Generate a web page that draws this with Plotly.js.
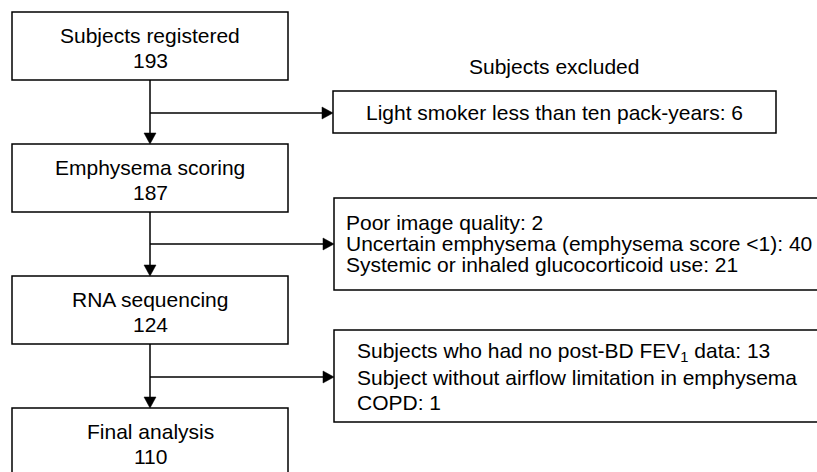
<!DOCTYPE html>
<html>
<head>
<meta charset="utf-8">
<script src="https://cdn.plot.ly/plotly-3.0.1.min.js"></script>
<style>html,body{margin:0;padding:0;background:#fff;}#chart{width:817px;height:472px;}</style>
</head>
<body>
<div id="chart"></div>
<script>
// ---- chart content ----
const stageLabels = ['Subjects registered', 'Emphysema scoring', 'RNA sequencing', 'Final analysis'];
const stageCounts = [193, 187, 124, 110];
const exclusionHeader = 'Subjects excluded';
const exclusionReasons = [
  ['Light smoker less than ten pack-years: 6'],
  ['Poor image quality: 2', 'Uncertain emphysema (emphysema score <1): 40', 'Systemic or inhaled glucocorticoid use: 21'],
  ['Subjects who had no post-BD FEV<sub>1</sub> data: 13', 'Subject without airflow limitation in emphysema', 'COPD: 1']
];

// ---- layout geometry (pixels) ----
const FONT = {family: 'Liberation Sans, Arial, sans-serif', size: 21, color: '#000'};
const LW = 1.5;
const boxX0 = 12, boxX1 = 288, boxH = 68, boxStep = 132, boxTop0 = 12, spineX = 150;
const HEAD_L = 11, HEAD_W = 6; // arrowhead length and half-width
const exBoxes = [
  {x0: 333, x1: 776, y0: 91, y1: 133, branchY: 113, align: 'center', textX: 554.5, lineY: [112]},
  {x0: 334, x1: 830, y0: 198, y1: 290, branchY: 244, align: 'left', textX: 344, lineY: [222, 243, 264]},
  {x0: 334, x1: 830, y0: 330, y1: 422, branchY: 377, align: 'left', textX: 355, lineY: [352, 377, 402]}
];

const shapes = [];
const annotations = [];
const line = (x0, y0, x1, y1) => shapes.push({type: 'line', xref: 'x', yref: 'y', x0, y0, x1, y1,
  line: {color: '#000', width: LW}});
const headDown = (x, y) => shapes.push({type: 'path', xref: 'x', yref: 'y',
  path: `M${x - HEAD_W},${y - HEAD_L} L${x + HEAD_W},${y - HEAD_L} L${x},${y} Z`,
  fillcolor: '#000', line: {color: '#000', width: 0.5}});
const headRight = (x, y) => shapes.push({type: 'path', xref: 'x', yref: 'y',
  path: `M${x - HEAD_L},${y - HEAD_W} L${x - HEAD_L},${y + HEAD_W} L${x},${y} Z`,
  fillcolor: '#000', line: {color: '#000', width: 0.5}});

stageLabels.forEach((lab, i) => {
  const top = boxTop0 + i * boxStep;
  shapes.push({type: 'rect', xref: 'x', yref: 'y', x0: boxX0, x1: boxX1, y0: top, y1: top + boxH,
    line: {color: '#000', width: LW}, fillcolor: 'rgba(0,0,0,0)'});
  annotations.push({x: (boxX0 + boxX1) / 2, y: top + 23, text: lab, showarrow: false,
    xanchor: 'center', yanchor: 'middle', font: FONT});
  annotations.push({x: (boxX0 + boxX1) / 2, y: top + 48, text: String(stageCounts[i]), showarrow: false,
    xanchor: 'center', yanchor: 'middle', font: FONT});
  if (i < stageLabels.length - 1) {
    line(spineX, top + boxH, spineX, top + boxStep - HEAD_L + 1);
    headDown(spineX, top + boxStep);
  }
});

exBoxes.forEach((b, i) => {
  shapes.push({type: 'rect', xref: 'x', yref: 'y', x0: b.x0, x1: b.x1, y0: b.y0, y1: b.y1,
    line: {color: '#000', width: LW}, fillcolor: 'rgba(0,0,0,0)'});
  line(spineX, b.branchY, b.x0 - HEAD_L + 1, b.branchY);
  headRight(b.x0, b.branchY);
  exclusionReasons[i].forEach((txt, j) => {
    annotations.push({x: b.textX, y: b.lineY[j], text: txt, showarrow: false,
      xanchor: b.align === 'center' ? 'center' : 'left', yanchor: 'middle', align: b.align, font: FONT});
  });
});

annotations.push({x: 554, y: 66, text: exclusionHeader, showarrow: false,
  xanchor: 'center', yanchor: 'middle', font: FONT});

const layout = {
  width: 817, height: 472,
  margin: {l: 0, r: 0, t: 0, b: 0},
  paper_bgcolor: '#fff', plot_bgcolor: '#fff',
  showlegend: false,
  xaxis: {range: [0, 817], visible: false, fixedrange: true},
  yaxis: {range: [472, 0], visible: false, fixedrange: true},
  shapes: shapes,
  annotations: annotations
};

Plotly.newPlot('chart', [], layout, {staticPlot: true, displayModeBar: false});
</script>
</body>
</html>
